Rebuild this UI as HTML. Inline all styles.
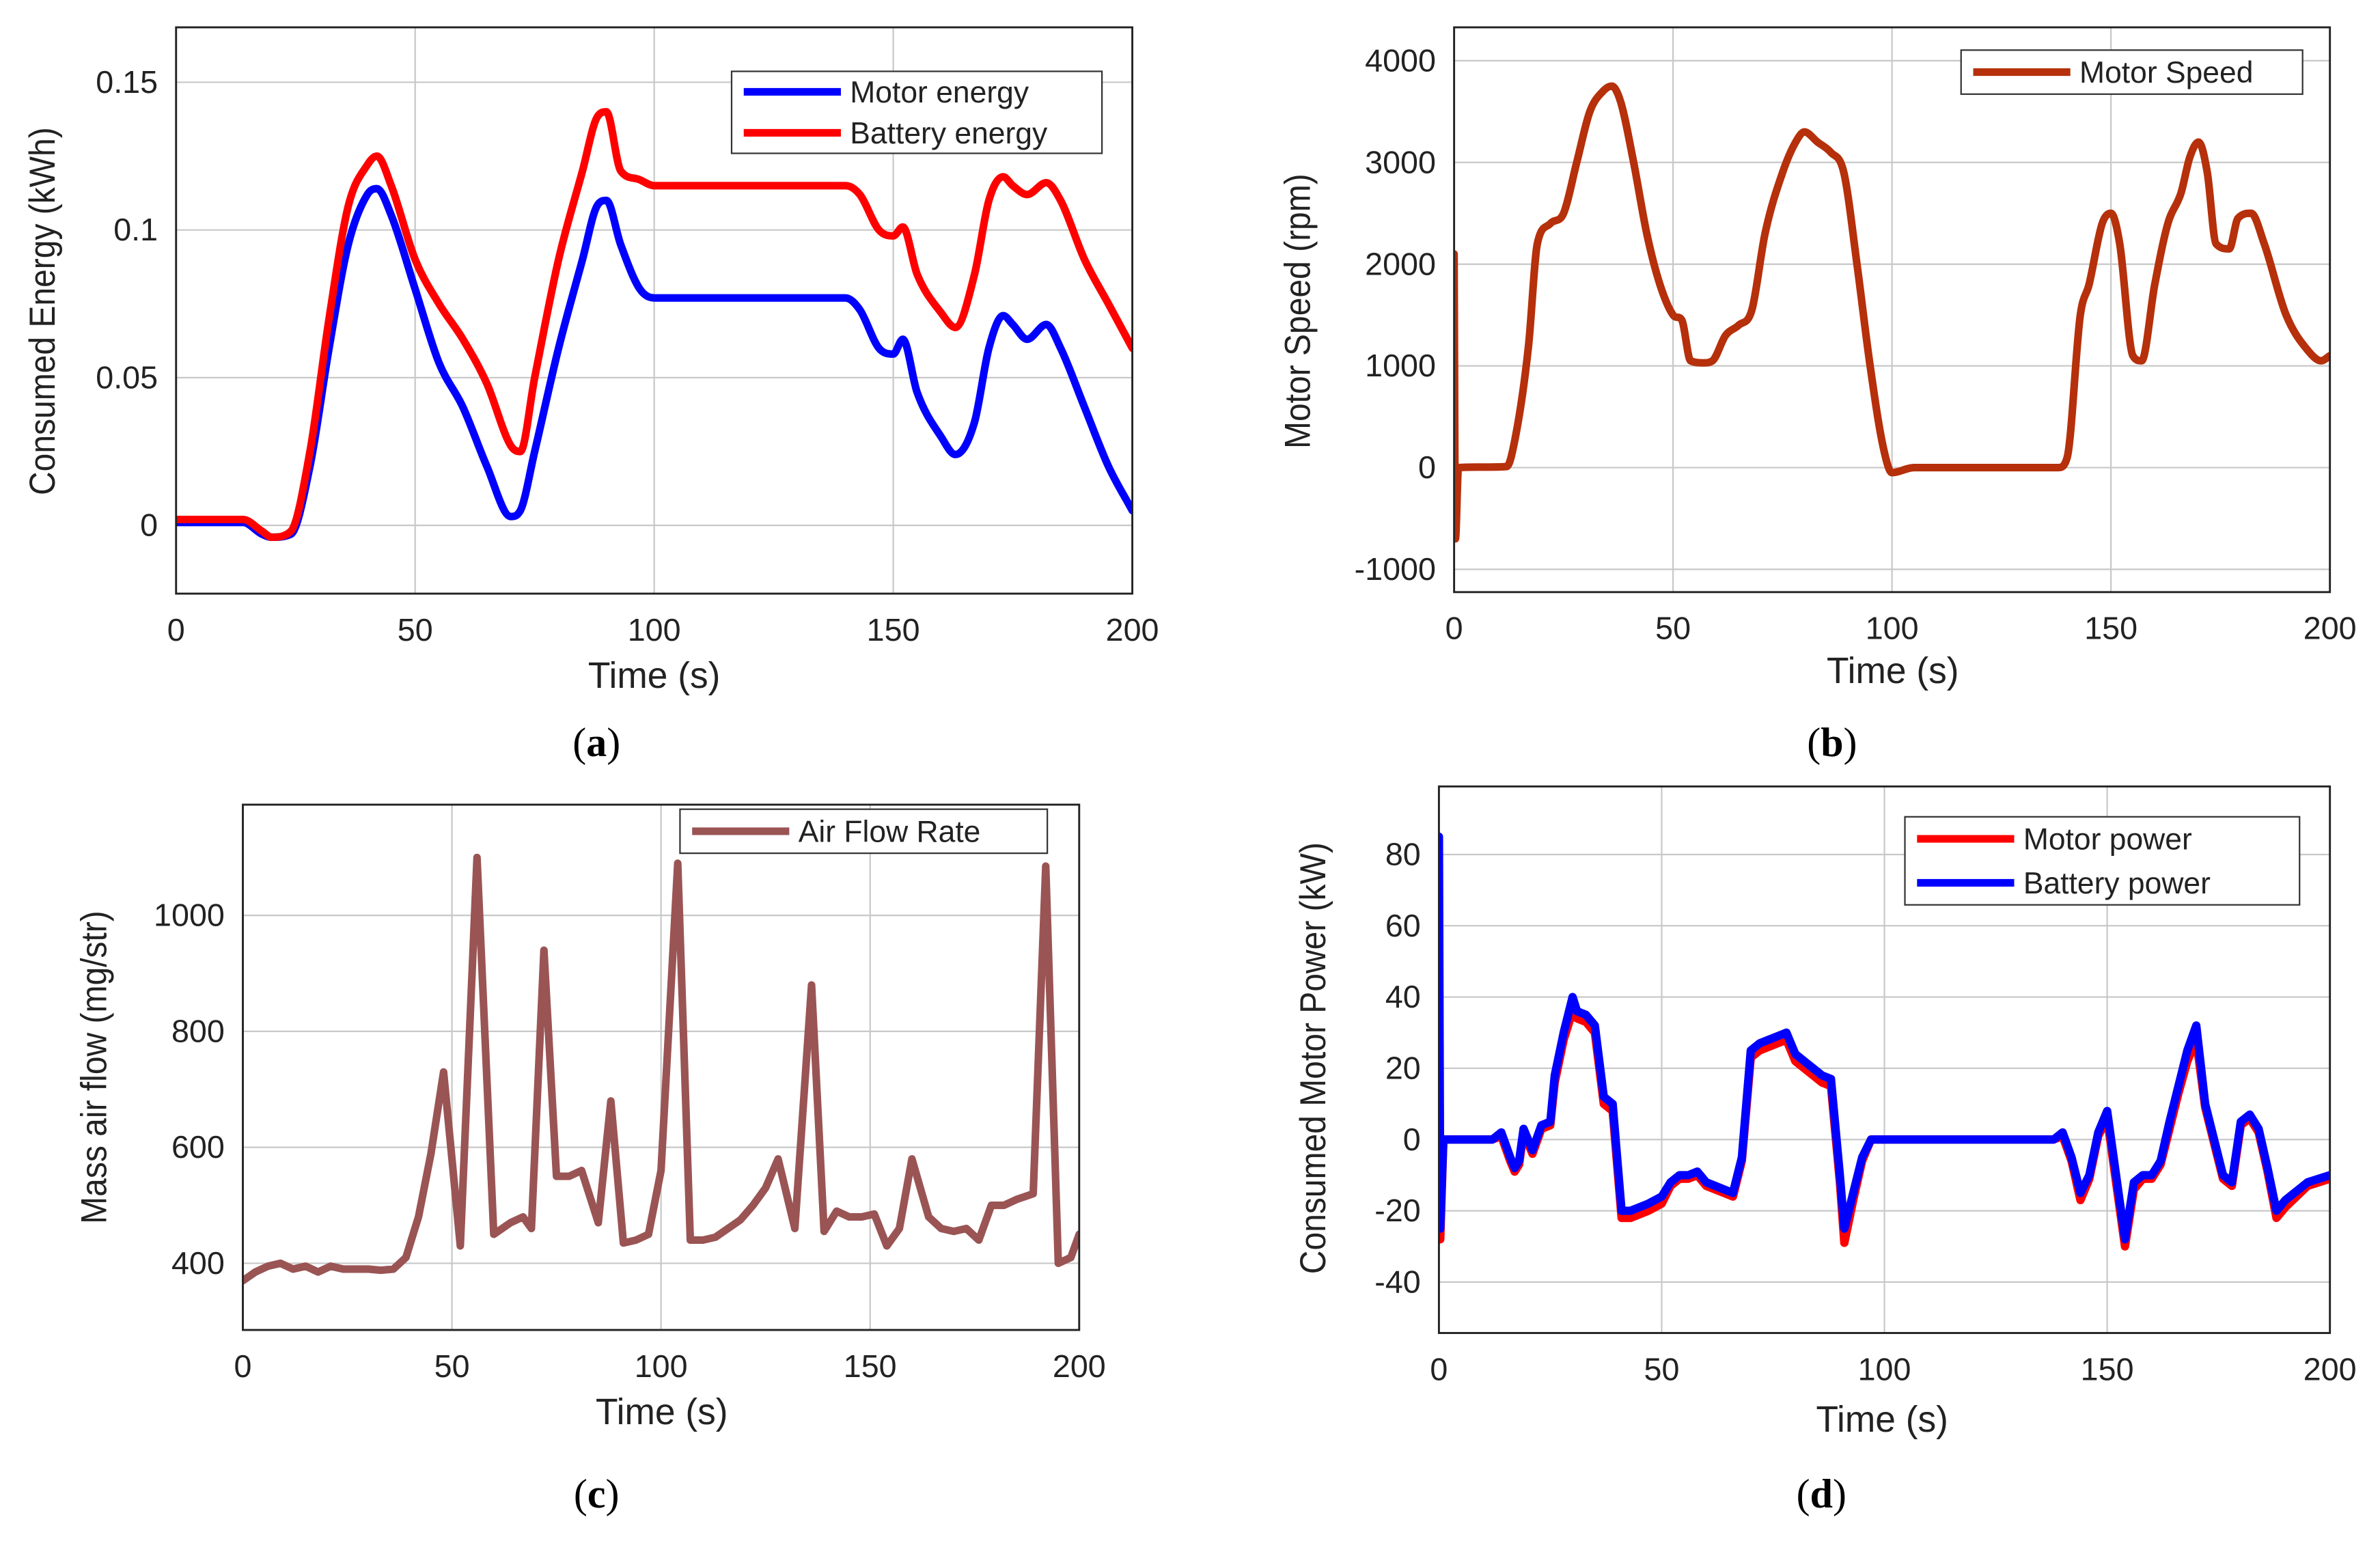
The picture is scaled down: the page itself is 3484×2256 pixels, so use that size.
<!DOCTYPE html>
<html><head><meta charset="utf-8">
<style>
html,body{margin:0;padding:0;background:#fff;}
svg{display:block;}
text{font-family:"Liberation Sans",sans-serif;fill:#222;}
.cap{font-family:"Liberation Serif",serif;font-size:27px;fill:#000;}
</style></head>
<body>
<svg id="fig" width="3484" height="2256" viewBox="0 0 1568 1015" preserveAspectRatio="none" xmlns="http://www.w3.org/2000/svg"></svg>
<script>
// ---- data ----
const tA=[0,14,18,20,24,28,32,36,40,42,45,50,55,60,65,70,72,75,80,85,88,90,93,97,100,140,143,147,150,152,155,160,163,167,170,173,175,178,182,185,190,195,200];
const motorEnergy=[0.001,0.001,-0.003,-0.004,-0.003,0.02,0.06,0.095,0.112,0.114,0.105,0.08,0.055,0.04,0.02,0.003,0.005,0.025,0.06,0.09,0.108,0.11,0.095,0.08,0.077,0.077,0.073,0.06,0.058,0.063,0.045,0.03,0.024,0.035,0.06,0.071,0.068,0.063,0.068,0.06,0.04,0.02,0.005];
const batteryEnergy=[0.002,0.002,-0.002,-0.004,-0.002,0.025,0.07,0.108,0.122,0.125,0.115,0.09,0.075,0.063,0.048,0.027,0.025,0.05,0.09,0.12,0.138,0.14,0.12,0.117,0.115,0.115,0.112,0.1,0.098,0.101,0.085,0.072,0.067,0.085,0.11,0.118,0.115,0.112,0.116,0.11,0.09,0.075,0.06];
const tB=[0,0.3,1,12,14,17,19,22,25,28,31,34,36,38,41,44,47,50,52,54,57,59,62,65,68,71,75,78,80,83,86,89,92,95,98,100,105,138,140,143,145,148,150,152,155,157,160,163,166,168,170,172,174,177,179,182,185,190,195,198,200];
const motorSpeed=[2100,-700,0,10,300,1200,2200,2400,2500,3000,3500,3700,3750,3600,3000,2300,1800,1500,1450,1050,1030,1050,1300,1400,1550,2300,2900,3200,3300,3200,3100,2900,2000,1000,200,-50,0,0,100,1500,1800,2400,2500,2200,1100,1050,1800,2400,2700,3050,3200,2900,2200,2150,2450,2500,2200,1500,1150,1050,1100];
const tC=[0,3,6,9,12,15,18,21,24,27,30,33,36,39,42,45,48,52,56,60,64,67,69,72,75,78,81,85,88,91,94,97,100,104,107,110,113,116,119,122,125,128,132,136,139,142,145,148,151,154,157,160,164,167,170,173,176,179,182,185,189,192,195,198,200];
const airFlow=[370,385,395,400,390,395,385,395,390,390,390,388,390,410,480,590,730,430,1100,450,470,480,460,940,550,550,560,470,680,435,440,450,560,1090,440,440,445,460,475,500,530,580,460,880,455,490,480,480,485,430,460,580,480,460,455,460,440,500,500,510,520,1085,400,410,450];
const tD=[0,0.3,1,12,14,16,17,18,19,21,23,25,26,28,30,31,33,35,37,39,41,43,45,47,50,52,54,56,58,60,62,64,66,68,70,72,74,76,78,80,82,84,86,88,90,91,93,95,97,100,138,140,142,144,146,148,150,152,154,156,158,160,162,164,166,168,170,172,174,176,178,180,182,184,186,188,190,195,200];
const batteryPower=[85,-25,0,0,2,-5,-8,-6,3,-3,4,5,18,30,40,36,35,32,12,10,-20,-20,-19,-18,-16,-12,-10,-10,-9,-12,-13,-14,-15,-5,25,27,28,29,30,24,22,20,18,17,-10,-25,-15,-5,0,0,0,2,-5,-15,-10,2,8,-10,-28,-12,-10,-10,-6,5,15,25,32,10,0,-10,-12,5,7,3,-8,-20,-17,-12,-10];
const motorPower=[0,-28,0,0,1,-6,-9,-7,2,-4,3,4,16,28,36,34,33,30,10,8,-22,-22,-21,-20,-18,-13,-11,-11,-10,-13,-14,-15,-16,-6,23,25,26,27,28,22,20,18,16,15,-12,-29,-17,-6,0,0,0,1,-6,-17,-11,1,6,-12,-30,-14,-11,-11,-7,3,13,22,28,9,-1,-11,-13,4,6,2,-9,-22,-19,-13,-11];
const ticksA=[0,0.05,0.1,0.15], ticksALbl=["0","0.05","0.1","0.15"];
const ticksB=[-1000,0,1000,2000,3000,4000];
const ticksC=[400,600,800,1000];
const ticksD=[-40,-20,0,20,40,60,80];
const xTicks=[0,50,100,150,200];

const NS="http://www.w3.org/2000/svg";
const svg=document.getElementById('fig');
function el(tag,attrs,parent,txt){const e=document.createElementNS(NS,tag);for(const k in attrs)e.setAttribute(k,attrs[k]);if(txt!==undefined)e.textContent=txt;(parent||svg).appendChild(e);return e;}

function pathD(pts,smooth){
  if(!smooth){return pts.map((p,i)=>(i?'L':'M')+p[0].toFixed(2)+','+p[1].toFixed(2)).join('');}
  const n=pts.length, sec=[], m=[];
  for(let i=0;i<n-1;i++){const dx=pts[i+1][0]-pts[i][0];sec.push(dx>0?(pts[i+1][1]-pts[i][1])/dx:0);}
  for(let i=0;i<n;i++){
    if(i===0)m.push(sec[0]);else if(i===n-1)m.push(sec[n-2]);
    else{const a=sec[i-1],b=sec[i];
      if(a*b<=0)m.push(0);
      else{let v=(a+b)/2;const lim=3*Math.min(Math.abs(a),Math.abs(b));if(Math.abs(v)>lim)v=Math.sign(v)*lim;m.push(v);}
    }
  }
  let d='M'+pts[0][0].toFixed(2)+','+pts[0][1].toFixed(2);
  for(let i=0;i<n-1;i++){
    const p1=pts[i],p2=pts[i+1],dx=(p2[0]-p1[0])/3;
    d+='C'+(p1[0]+dx).toFixed(2)+','+(p1[1]+m[i]*dx).toFixed(2)+' '+(p2[0]-dx).toFixed(2)+','+(p2[1]-m[i+1]*dx).toFixed(2)+' '+p2[0].toFixed(2)+','+p2[1].toFixed(2);
  }
  return d;
}

function panel(c){
  const g=el('g',{});
  
  
  const X=v=>c.x0+(v-0)/200*(c.x1-c.x0);
  const Y=v=>c.yb+(v-c.ymin)/(c.ymax-c.ymin)*(c.yt-c.yb);
  const bg=el('rect',{x:c.x0,y:c.yt,width:c.x1-c.x0,height:c.yb-c.yt,fill:'#fff'},g);
  
  
  xTicks.forEach(t=>{
    const l=el('line',{x1:X(t),x2:X(t),y1:c.yt,y2:c.yb,stroke:'#c8c8c8','stroke-width':1},g);
    
    
    const tx=el('text',{x:X(t),y:c.yb+31,'font-size':21,'text-anchor':'middle'},g,String(t));
    
    
  });
  c.yticks.forEach((t,i)=>{
    const l=el('line',{x1:c.x0,x2:c.x1,y1:Y(t),y2:Y(t),stroke:'#c8c8c8','stroke-width':1},g);
    
    
    const tx=el('text',{x:c.x0-12,y:Y(t)+7,'font-size':21,'text-anchor':'end'},g,c.ylbl?c.ylbl[i]:String(t));
    
    
  });
  const cp=el('clipPath',{id:'clip-'+c.name},g);
  el('rect',{x:c.x0,y:c.yt,width:c.x1-c.x0,height:c.yb-c.yt},cp);
  c.series.forEach(s=>{
    const pts=s.t.map((t,i)=>[X(t),Y(s.v[i])]);
    const p=el('path',{d:pathD(pts,c.smooth),fill:'none',stroke:s.color,'stroke-width':s.w,'stroke-linejoin':'round','stroke-linecap':'round','clip-path':'url(#clip-'+c.name+')'},g);
    
    
  });
  const fr=el('rect',{x:c.x0,y:c.yt,width:c.x1-c.x0,height:c.yb-c.yt,fill:'none',stroke:'#222','stroke-width':1.3},g);
  
  
  const xt=el('text',{x:c.xt[0],y:c.xt[1],'font-size':24,'text-anchor':'middle'},g,'Time (s)');
  
  
  const yt=el('text',{x:0,y:0,'font-size':24,'text-anchor':'middle',transform:'translate('+c.ytp[0]+','+c.ytp[1]+') rotate(-90) scale(0.9,1)'},g,c.ytitle);
  
  
  const lg=el('g',{},g);
  
  
  const L=c.legend;
  el('rect',{x:L.x,y:L.y,width:L.w,height:L.h,fill:'#fff',stroke:'#333','stroke-width':1},lg);
  L.items.forEach((it,i)=>{
    const yy=L.y+L.h/L.items.length*(i+0.5);
    const ln=el('line',{x1:L.x+8,x2:L.x+72,y1:yy,y2:yy,stroke:it.color,'stroke-width':5},lg);
    
    
    const t=el('text',{x:L.x+78,y:yy+7,'font-size':20},lg,it.label);
    
    
  });
  const cap=el('text',{x:c.cap[0],y:c.cap[1],'text-anchor':'middle',class:'cap'},g);
  
  
  el('tspan',{},cap,'(');
  el('tspan',{'font-weight':'bold'},cap,c.letter);
  el('tspan',{},cap,')');
}

panel({name:'chart-a-energy',smooth:true,x0:116,x1:746,yt:18,yb:391,ymin:-0.0231,ymax:0.1686,yticks:ticksA,ylbl:ticksALbl,
  series:[{name:'motor-energy-line',t:tA,v:motorEnergy,color:'#0000ff',w:5},{name:'battery-energy-line',t:tA,v:batteryEnergy,color:'#ff0000',w:5}],
  xt:[431,453],ytp:[36,205],ytitle:'Consumed Energy (kWh)',
  legend:{x:482,y:47,w:244,h:54,items:[{color:'#0000ff',label:'Motor energy'},{color:'#ff0000',label:'Battery energy'}]},cap:[393,498],letter:'a'});

panel({name:'chart-b-speed',smooth:true,x0:958,x1:1535,yt:18,yb:390,ymin:-1224,ymax:4328,yticks:ticksB,
  series:[{name:'motor-speed-line',t:tB,v:motorSpeed,color:'#b5300b',w:5}],
  xt:[1247,450],ytp:[863,205],ytitle:'Motor Speed (rpm)',
  legend:{x:1292,y:33,w:225,h:29,items:[{color:'#b5300b',label:'Motor Speed'}]},cap:[1207,498],letter:'b'});

panel({name:'chart-c-airflow',smooth:false,x0:160,x1:711,yt:530,yb:876,ymin:285,ymax:1191,yticks:ticksC,
  series:[{name:'air-flow-line',t:tC,v:airFlow,color:'#9a5454',w:5}],
  xt:[436,938],ytp:[70,703],ytitle:'Mass air flow (mg/str)',
  legend:{x:448,y:533,w:242,h:29,items:[{color:'#9a5454',label:'Air Flow Rate'}]},cap:[393,993],letter:'c'});

panel({name:'chart-d-power',smooth:false,x0:948,x1:1535,yt:518,yb:878,ymin:-54.3,ymax:99.1,yticks:ticksD,
  series:[{name:'motor-power-line',t:tD,v:motorPower,color:'#ff0000',w:5.5},{name:'battery-power-line',t:tD,v:batteryPower,color:'#0000ff',w:5.5}],
  xt:[1240,943],ytp:[873,697],ytitle:'Consumed Motor Power (kW)',
  legend:{x:1255,y:538,w:260,h:58,items:[{color:'#ff0000',label:'Motor power'},{color:'#0000ff',label:'Battery power'}]},cap:[1200,993],letter:'d'});
</script>
</body></html>
